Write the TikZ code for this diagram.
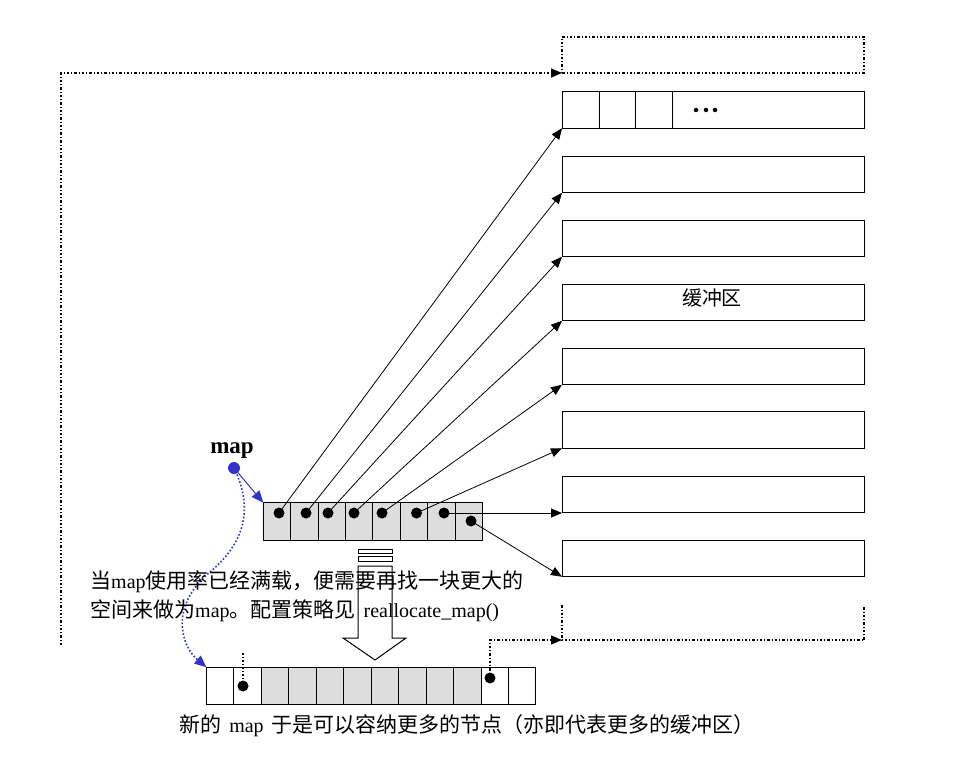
\documentclass[tikz,border=0pt]{standalone}
\usepackage{fontspec}
\setmainfont{Liberation Serif}
\newfontfamily\cjk[Scale=1.05]{Noto Sans CJK SC}
\usetikzlibrary{arrows.meta,calc}
\definecolor{cellgray}{HTML}{DDDDDD}
\definecolor{mapblue}{HTML}{3333CC}
\begin{document}
\begin{tikzpicture}[x=1pt,y=-1pt,
  buf/.style={draw,line width=1pt,minimum width=302pt,minimum height=36.5pt,inner sep=0pt,outer sep=0pt},
  mcell/.style={draw,line width=1pt,fill=cellgray,minimum width=27.4pt,minimum height=37.5pt,inner sep=0pt,outer sep=0pt},
  ncell/.style={draw,line width=1pt,minimum width=27.45pt,minimum height=37.5pt,inner sep=0pt,outer sep=0pt},
  pdot/.style={circle,fill=black,minimum size=11pt,inner sep=0pt},
  arr/.style={line width=0.8pt,-{Triangle[length=11pt,width=9pt]}},
  dd/.style={line width=1.4pt,dash pattern=on 2.5pt off 2pt on 1pt off 2pt},
  dtxt/.style={font=\fontsize{20pt}{24pt}\selectfont,inner sep=0pt}
]
\useasboundingbox (0,0) rectangle (972,781);

% buffers
\foreach \i/\y in {1/110,2/174.5,3/238.5,4/302.5,5/366.5,6/430,7/494.5,8/558.5}{
  \node[buf] (b\i) at (713,\y) {};
}
\draw[line width=1pt] (599,92) -- (599,128) (635,92) -- (635,128) (672,92) -- (672,128);
\foreach \x [count=\k] in {696,706,715}{\node[circle,fill=black,minimum size=4.5pt,inner sep=0pt] (e\k) at (\x,110) {};}
\node[font=\fontsize{19pt}{22pt}\selectfont,inner sep=0pt,anchor=base] (lbl) at (712,305) {\cjk 缓冲区};

% top dotted box
\node[draw,dd,minimum width=302pt,minimum height=36pt,inner sep=0pt,outer sep=0pt] (tb) at (713,55) {};
% bottom open dotted box
\coordinate (bl) at (562,640);
\draw[dd] (562,605) -- (bl) -- (864,640) -- (864,605);

% old map
\foreach \i in {1,...,8}{
  \node[mcell] (m\i) at ({263.3+27.4*(\i-0.5)},521.5) {};
}
\foreach \i/\x/\y in {1/279/513,2/306/513,3/328/513,4/354/513,5/382/513,6/416.5/513,7/444/513,8/471/521}{
  \node[pdot] (d\i) at (\x,\y) {};
}
\foreach \i in {1,2,3,4,5,6,8}{
  \draw[arr] (d\i.center) -- (b\i.south west);
}
\draw[arr] (d7.center) -- (b7.west |- d7.center);

% map label and pointer
\node[font=\fontsize{23pt}{26pt}\selectfont\bfseries,anchor=base,inner sep=0pt] (maplbl) at (232,453) {map};
\node[circle,fill=mapblue,minimum size=12pt,inner sep=0pt] (bd) at (234,468) {};
\draw[mapblue,line width=1pt,-{Triangle[length=12pt,width=10pt]}] (bd.center) -- (m1.north west);

% new map
\foreach \i in {1,...,12}{
  \ifnum\i>2 \ifnum\i<11
    \node[ncell,fill=cellgray] (n\i) at ({206.5+27.45*(\i-0.5)},686) {};
  \else
    \node[ncell] (n\i) at ({206.5+27.45*(\i-0.5)},686) {};
  \fi\else
    \node[ncell] (n\i) at ({206.5+27.45*(\i-0.5)},686) {};
  \fi
}
\node[pdot] (nd2) at (243,686) {};
\node[pdot] (nd11) at (490,678) {};
\coordinate (nt2) at (243,651);
\draw[dotted,line width=1.5pt] (nd2.center) -- (nt2);
\draw[dd,-{Triangle[length=11pt,width=9pt]}] (nd11.center) -- (490,640) -- (bl);

\draw[mapblue,dotted,line width=1.6pt,-{Triangle[length=12pt,width=10pt]}]
  (bd.center) .. controls (252,505) and (248,540) .. (210,572)
  .. controls (170,605) and (180,645) .. (n1.north west);

% left dotted connector
\coordinate (lc) at (61,645);
\draw[dd,-{Triangle[length=11pt,width=9pt]}] (lc) -- (61,73) -- (tb.south west);

% hollow arrow
\draw[line width=1pt] (358,549) rectangle (392,553);
\draw[line width=1pt] (358,556) rectangle (392,561);
\draw[line width=1pt] (358,566) -- (358,638) -- (343,638) -- (375,660) -- (406,638) -- (392,638) -- (392,566) -- cycle;

% texts
\node[dtxt,anchor=base west] (t1) at (90,588) {{\cjk 当}map{\cjk 使用率已经满载，便需要再找一块更大的}};
\node[dtxt,anchor=base west] (t2) at (90,617) {{\cjk 空间来做为}map{\cjk 。配置策略见}\hspace{8pt}reallocate\_map()};
\node[dtxt,anchor=base] (cap) at (467,732) {{\cjk 新的}\hspace{8pt}map\hspace{8pt}{\cjk 于是可以容纳更多的节点（亦即代表更多的缓冲区）}};
\end{tikzpicture}
\end{document}
